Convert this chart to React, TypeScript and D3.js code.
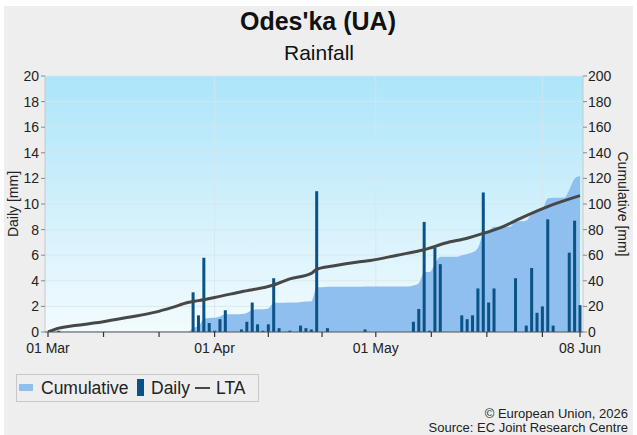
import React from "react";
import * as d3 from "d3";

const titleText = "Odes'ka (UA)";
const subtitleText = "Rainfall";
const startDate = "2026-03-01";
const endDate = "2026-06-08";

// Daily rainfall (mm), only days with rain
const rainDates = [
  "2026-03-03", "2026-03-28", "2026-03-29", "2026-03-30", "2026-03-31",
  "2026-04-01", "2026-04-02", "2026-04-03", "2026-04-06", "2026-04-07",
  "2026-04-08", "2026-04-09", "2026-04-10", "2026-04-11", "2026-04-12",
  "2026-04-13", "2026-04-15", "2026-04-17", "2026-04-18", "2026-04-19",
  "2026-04-20", "2026-04-22", "2026-04-29", "2026-05-08", "2026-05-09",
  "2026-05-10", "2026-05-11", "2026-05-12", "2026-05-13", "2026-05-17",
  "2026-05-18", "2026-05-19", "2026-05-20", "2026-05-21", "2026-05-22",
  "2026-05-23", "2026-05-27", "2026-05-29", "2026-05-30", "2026-05-31",
  "2026-06-01", "2026-06-02", "2026-06-03", "2026-06-06", "2026-06-07",
  "2026-06-08",
];
const rainMm = [
  0.1, 3.1, 1.3, 5.8, 0.7,
  0.1, 1.0, 1.7, 0.2, 0.8,
  2.3, 0.6, 0.1, 0.6, 4.2,
  0.3, 0.1, 0.5, 0.3, 0.2,
  11.0, 0.3, 0.2, 0.8, 1.8,
  8.6, 0.1, 6.6, 5.3, 1.3,
  1.0, 1.3, 3.4, 10.9, 2.3,
  3.4, 4.2, 0.5, 5.0, 1.5,
  2.0, 8.8, 0.5, 6.2, 8.7,
  2.1,
];

// Long term average cumulative (mm)
const ltaDates = [
  "2026-03-01", "2026-03-03", "2026-03-06", "2026-03-11", "2026-03-16",
  "2026-03-21", "2026-03-24", "2026-03-27", "2026-03-29", "2026-04-01",
  "2026-04-06", "2026-04-12", "2026-04-15", "2026-04-19", "2026-04-20",
  "2026-04-23", "2026-04-28", "2026-04-30", "2026-05-05", "2026-05-10",
  "2026-05-14", "2026-05-18", "2026-05-21", "2026-05-25", "2026-05-28",
  "2026-06-02", "2026-06-08",
];
const ltaMm = [
  0, 3, 5, 7.8, 11.5,
  15.5, 19, 23, 24.5, 27,
  31.5, 36.7, 41.5, 45.8, 49,
  51.6, 54.9, 55.9, 60, 64.3,
  69.5, 73.3, 77, 83, 89,
  98, 106.5,
];

const leftTicks = [0, 2, 4, 6, 8, 10, 12, 14, 16, 18, 20];
const rightTicks = [0, 20, 40, 60, 80, 100, 120, 140, 160, 180, 200];
const monthStarts = ["2026-03-01", "2026-04-01", "2026-05-01", "2026-06-01"];
const labelDates = ["2026-03-01", "2026-04-01", "2026-05-01", "2026-06-08"];
const labelTexts = ["01 Mar", "01 Apr", "01 May", "08 Jun"];

const FONT = "'Liberation Sans', Arial, sans-serif";

const W = 637;
const H = 435;
const plot = { left: 45, right: 583, top: 76, bottom: 332 };

export default function App() {
  const parse = (s: string) => new Date(s + "T00:00:00Z");
  const x = d3
    .scaleUtc()
    .domain([parse(startDate), parse(endDate)])
    .range([48, 580]);
  const yL = d3.scaleLinear().domain([0, 20]).range([plot.bottom, plot.top]);
  const yR = d3.scaleLinear().domain([0, 200]).range([plot.bottom, plot.top]);

  // full daily series
  const days = d3.utcDay.range(parse(startDate), d3.utcDay.offset(parse(endDate), 1));
  const rainMap = new Map(rainDates.map((d, i) => [d, rainMm[i]]));
  const daily = days.map((d) => rainMap.get(d3.utcFormat("%Y-%m-%d")(d)) ?? 0);
  const cum = Array.from(d3.cumsum(daily));

  const area = d3
    .area<number>()
    .x((_, i) => x(days[i]))
    .y0(plot.bottom)
    .y1((v) => yR(v))
    .curve(d3.curveMonotoneX)(cum);

  const ltaLine = d3
    .line<number>()
    .x((_, i) => x(parse(ltaDates[i])))
    .y((v) => yR(v))
    .curve(d3.curveMonotoneX)(ltaMm);

  // minor ticks at thirds of each month
  const minorTicks: Date[] = [];
  monthStarts.forEach((m) => {
    const s = parse(m);
    const e = d3.utcMonth.offset(s, 1);
    const len = e.getTime() - s.getTime();
    [0, 1, 2].forEach((k) => {
      const t = new Date(s.getTime() + (len * k) / 3);
      if (t <= parse(endDate)) minorTicks.push(t);
    });
  });
  minorTicks.push(parse(endDate));

  const barW = 3;

  return (
    <svg
      width={W}
      height={H}
      style={{ position: "absolute", left: 0, top: 0, fontFamily: FONT }}
    >
      <defs>
        <linearGradient id="bg" x1="0" y1="0" x2="0" y2="1">
          <stop offset="0%" stopColor="#ace5fa" />
          <stop offset="100%" stopColor="#f3fbfe" />
        </linearGradient>
        <clipPath id="clip">
          <rect x={plot.left} y={plot.top} width={plot.right - plot.left} height={plot.bottom - plot.top} />
        </clipPath>
      </defs>
      <rect x={0} y={0} width={W} height={H} fill="#ffffff" />
      <rect x={4} y={6} width={629} height={H - 6} fill="#eeeeee" />

      <text x={318} y={30} textAnchor="middle" fontSize={25} fontWeight="bold" fill="#111">
        {titleText}
      </text>
      <text x={319} y={60} textAnchor="middle" fontSize={21} fill="#111">
        {subtitleText}
      </text>

      {/* plot background */}
      <rect
        x={plot.left}
        y={plot.top}
        width={plot.right - plot.left}
        height={plot.bottom - plot.top}
        fill="url(#bg)"
      />
      {/* gridlines */}
      {leftTicks.map((t) => (
        <line
          key={"g" + t}
          x1={plot.left}
          x2={plot.right}
          y1={yL(t)}
          y2={yL(t)}
          stroke="#d6e6ee"
          strokeOpacity={0.8}
          strokeWidth={1}
        />
      ))}
      {monthStarts.slice(1).map((m) => (
        <line
          key={"v" + m}
          x1={x(parse(m))}
          x2={x(parse(m))}
          y1={plot.top}
          y2={plot.bottom}
          stroke="#d6e6ee"
          strokeOpacity={0.8}
        />
      ))}

      <g clipPath="url(#clip)">
        <path d={area ?? ""} fill="#8fbfee" />
        {daily.map((v, i) =>
          v > 0 ? (
            <rect
              key={"b" + i}
              x={x(days[i]) - barW / 2}
              y={yL(v)}
              width={barW}
              height={plot.bottom - yL(v)}
              fill="#0b5286"
            />
          ) : null
        )}
        <path d={ltaLine ?? ""} fill="none" stroke="#474747" strokeWidth={3} strokeLinejoin="round" />
      </g>

      {/* axes lines */}
      <line x1={plot.left} x2={plot.left} y1={plot.top} y2={plot.bottom} stroke="#c8c8c8" />
      <line x1={plot.right} x2={plot.right} y1={plot.top} y2={plot.bottom} stroke="#c8c8c8" />
      <line x1={plot.left} x2={plot.right} y1={plot.bottom} y2={plot.bottom} stroke="#555" />

      {/* left ticks */}
      {leftTicks.map((t) => (
        <g key={"lt" + t}>
          <line x1={plot.left - 4} x2={plot.left} y1={yL(t)} y2={yL(t)} stroke="#888" />
          <text x={plot.left - 6} y={yL(t) + 5} textAnchor="end" fontSize={14} fill="#222">
            {t}
          </text>
        </g>
      ))}
      {rightTicks.map((t) => (
        <g key={"rt" + t}>
          <line x1={plot.right} x2={plot.right + 4} y1={yR(t)} y2={yR(t)} stroke="#888" />
          <text x={plot.right + 5} y={yR(t) + 5} textAnchor="start" fontSize={14} fill="#222">
            {t}
          </text>
        </g>
      ))}

      {/* x ticks */}
      {minorTicks.map((t, i) => (
        <line
          key={"xt" + i}
          x1={x(t)}
          x2={x(t)}
          y1={plot.bottom}
          y2={plot.bottom + 5}
          stroke="#333"
          strokeWidth={1.2}
        />
      ))}
      {labelDates.map((d, i) => (
        <text key={"xl" + d} x={x(parse(d))} y={353} textAnchor="middle" fontSize={14} fill="#222">
          {labelTexts[i]}
        </text>
      ))}

      {/* axis titles */}
      <text
        transform={`translate(18,${(plot.top + plot.bottom) / 2}) rotate(-90)`}
        textAnchor="middle"
        fontSize={14}
        fill="#222"
      >
        Daily [mm]
      </text>
      <text
        transform={`translate(618,${(plot.top + plot.bottom) / 2}) rotate(90)`}
        textAnchor="middle"
        fontSize={14}
        fill="#222"
      >
        Cumulative [mm]
      </text>

      {/* legend */}
      <rect x={16.5} y={374.5} width={242} height={27} fill="#eeeeee" stroke="#c8c8c8" />
      <rect x={19} y={384} width={14} height={7} fill="#8fbfee" />
      <text x={41} y={394} fontSize={17.5} fill="#222">Cumulative</text>
      <rect x={137} y={379} width={7} height={17} fill="#0b5286" />
      <text x={151} y={394} fontSize={17.5} fill="#222">Daily</text>
      <line x1={195} x2={210} y1={388} y2={388} stroke="#474747" strokeWidth={2} />
      <text x={216} y={394} fontSize={17.5} fill="#222">LTA</text>

      {/* credits */}
      <text x={628} y={418} textAnchor="end" fontSize={13} fill="#222">
        © European Union, 2026
      </text>
      <text x={628} y={432} textAnchor="end" fontSize={13} fill="#222">
        Source: EC Joint Research Centre
      </text>
    </svg>
  );
}
